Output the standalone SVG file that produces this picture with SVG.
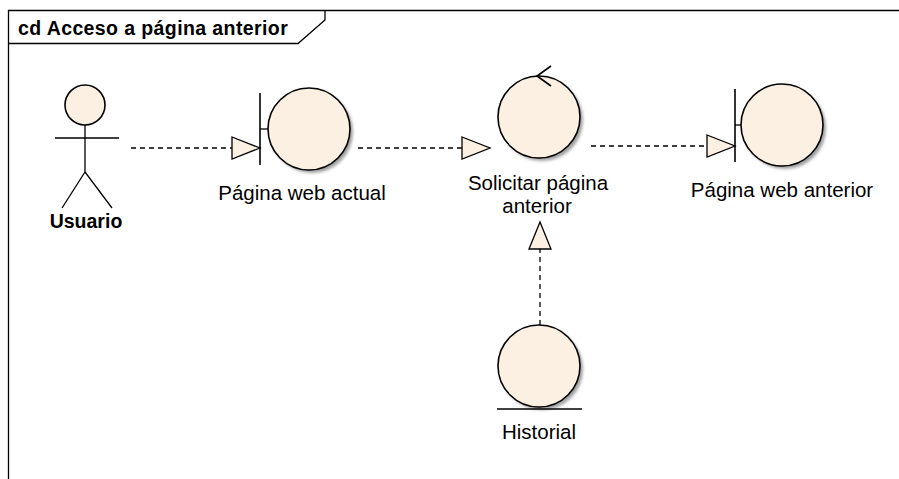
<svg xmlns="http://www.w3.org/2000/svg" width="899" height="479" viewBox="0 0 899 479">
<defs>
<filter id="blur" x="-20%" y="-20%" width="140%" height="140%"><feGaussianBlur stdDeviation="1.5"/></filter>
</defs>
<style>
.ln{stroke:#000;stroke-width:1.3;fill:none}
.sh{fill:#a0a0a0;stroke:none;filter:url(#blur)}
.bd{fill:#FBF0E2;stroke:#000;stroke-width:1.6}
.dash{stroke:#000;stroke-width:1.3;stroke-dasharray:5,4;fill:none}
.tri{fill:#FBF0E2;stroke:#000;stroke-width:1.3}
.t{font-family:"Liberation Sans",Arial,sans-serif;font-size:20.5px;fill:#000;text-anchor:middle}
.b{font-weight:bold}
</style>
<rect width="899" height="479" fill="#fff"/>
<g id="frame">
<path class="ln" d="M8.5,479 V10.5 H899"/>
<path class="ln" d="M8.5,43.5 H298 L325,20 V10.5"/>
<text class="t b" x="18" y="35" style="text-anchor:start;font-size:19.5px;letter-spacing:0.4px">cd Acceso a página anterior</text>
</g>
<g id="connectors">
<line class="dash" x1="131" y1="148" x2="232" y2="148"/>
<polygon class="tri" points="232,137 260,148 232,159"/>
<line class="dash" x1="358" y1="148" x2="462" y2="148"/>
<polygon class="tri" points="462,137 490,148 462,159"/>
<line class="dash" x1="591" y1="146" x2="707" y2="146"/>
<polygon class="tri" points="707,135 735,146 707,157"/>
<line class="dash" x1="540" y1="325" x2="540" y2="249"/>
<polygon class="tri" points="529,249 540,222 551,249"/>
</g>
<g id="usuario">
<circle class="bd" cx="85" cy="105" r="20"/>
<line class="ln" x1="85" y1="125" x2="85" y2="172"/>
<line class="ln" x1="55" y1="138" x2="119" y2="138"/>
<line class="ln" x1="85" y1="172" x2="62" y2="208"/>
<line class="ln" x1="85" y1="172" x2="112" y2="208"/>
<text class="t b" x="86" y="228" style="font-size:19.5px">Usuario</text>
</g>
<g id="pagina-web-actual">
<circle class="sh" cx="312" cy="132" r="41"/>
<circle class="bd" cx="309" cy="129" r="41"/>
<line class="ln" x1="260" y1="93" x2="260" y2="165" style="stroke-width:1.6"/>
<line class="ln" x1="260" y1="129" x2="268" y2="129"/>
<text class="t" x="302" y="200">Página web actual</text>
</g>
<g id="solicitar-pagina-anterior">
<circle class="sh" cx="542" cy="120" r="41"/>
<circle class="bd" cx="539" cy="117" r="41"/>
<polyline class="ln" points="551,66 537,76 551,86" style="stroke-width:1.6"/>
<text class="t" x="538" y="190">Solicitar página</text>
<text class="t" x="537" y="213">anterior</text>
</g>
<g id="pagina-web-anterior">
<circle class="sh" cx="785" cy="128" r="41"/>
<circle class="bd" cx="782" cy="125" r="41"/>
<line class="ln" x1="735" y1="89" x2="735" y2="162" style="stroke-width:1.6"/>
<line class="ln" x1="735" y1="125" x2="741" y2="125"/>
<text class="t" x="782" y="197">Página web anterior</text>
</g>
<g id="historial">
<circle class="sh" cx="542" cy="369" r="41"/>
<circle class="bd" cx="539" cy="366" r="41"/>
<line class="ln" x1="497" y1="409" x2="582" y2="409" style="stroke-width:1.6"/>
<text class="t" x="539" y="439">Historial</text>
</g>
</svg>
